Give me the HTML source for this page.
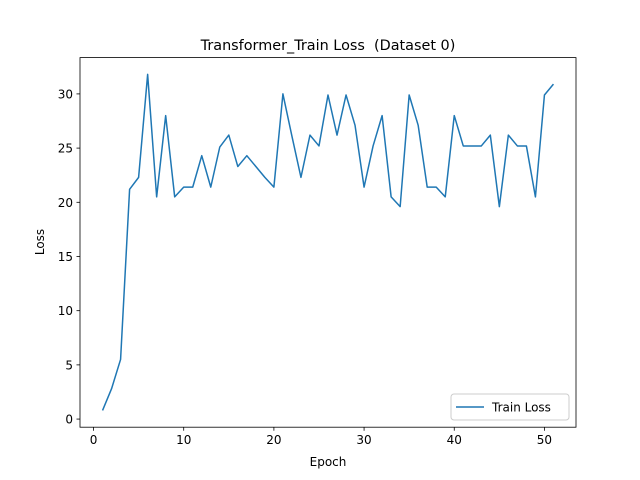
<!DOCTYPE html>
<html><head><meta charset="utf-8"><style>
body{margin:0;background:#fff}
svg{display:block;font-family:"DejaVu Sans","Liberation Sans",sans-serif}
</style></head><body>
<svg id="chart" width="640" height="480" viewBox="0 0 640 480">
<rect width="640" height="480" fill="#fff"/>
<text x="328" y="50" text-anchor="middle" font-size="14.4" style="white-space:pre">Transformer_Train Loss  (Dataset 0)</text>
<g id="grid"></g>
<path id="line" fill="none" stroke="#1f77b4" stroke-width="1.5" stroke-linejoin="round"/>
<rect x="80" y="57.6" width="496" height="369.6" fill="none" stroke="#000" stroke-width="0.8"/>
<text x="328" y="466" text-anchor="middle" font-size="12">Epoch</text>
<text transform="translate(44,242) rotate(-90)" text-anchor="middle" font-size="12">Loss</text>
<g>
<rect x="451" y="394" width="118" height="26" rx="3" fill="#fff" fill-opacity="0.8" stroke="#ccc" stroke-width="1"/>
<line x1="456" y1="407" x2="484" y2="407" stroke="#1f77b4" stroke-width="1.5"/>
<text x="492" y="411.5" font-size="12">Train Loss</text>
</g>
</svg>
<script>
const epochs=[];for(let i=1;i<=51;i++)epochs.push(i);
const lossValues=[0.8,2.8,5.5,21.2,22.3,31.8,20.5,28.0,20.5,21.4,21.4,24.3,21.4,25.1,26.2,23.3,24.3,23.3,22.3,21.4,30.0,26.1,22.3,26.2,25.2,29.9,26.2,29.9,27.1,21.4,25.2,28.0,20.5,19.6,29.9,27.1,21.4,21.4,20.5,28.0,25.2,25.2,25.2,26.2,19.6,26.2,25.2,25.2,20.5,29.9,30.9];
const xTicks=[0,10,20,30,40,50];
const yTicks=[0,5,10,15,20,25,30];
const L=80,R=576,T=57.6,B=427.2;
const xmin=Math.min(...epochs),xmax=Math.max(...epochs),xp=(xmax-xmin)*0.05;
const ymin=Math.min(...lossValues),ymax=Math.max(...lossValues),yp=(ymax-ymin)*0.05;
const sx=v=>L+(v-(xmin-xp))/((xmax+xp)-(xmin-xp))*(R-L);
const sy=v=>B-(v-(ymin-yp))/((ymax+yp)-(ymin-yp))*(B-T);
const ns="http://www.w3.org/2000/svg",g=document.getElementById('grid');
function mk(tag,a){const e=document.createElementNS(ns,tag);for(const k in a)e.setAttribute(k,a[k]);g.appendChild(e);return e;}
xTicks.forEach(v=>{
 const t=mk('line',{x1:sx(v),x2:sx(v),y1:B,y2:B+3.5,stroke:'#000','stroke-width':0.8});
 
 
 const l=mk('text',{x:sx(v),y:B+17,'text-anchor':'middle','font-size':12});
 
 
 l.textContent=v;
});
yTicks.forEach(v=>{
 const t=mk('line',{x1:L-3.5,x2:L,y1:sy(v),y2:sy(v),stroke:'#000','stroke-width':0.8});
 
 
 const l=mk('text',{x:L-7,y:sy(v)+4.5,'text-anchor':'end','font-size':12});
 
 
 l.textContent=v;
});
document.getElementById('line').setAttribute('d',epochs.map((e,i)=>(i?'L':'M')+sx(e).toFixed(2)+' '+sy(lossValues[i]).toFixed(2)).join(' '));
</script>
</body></html>
